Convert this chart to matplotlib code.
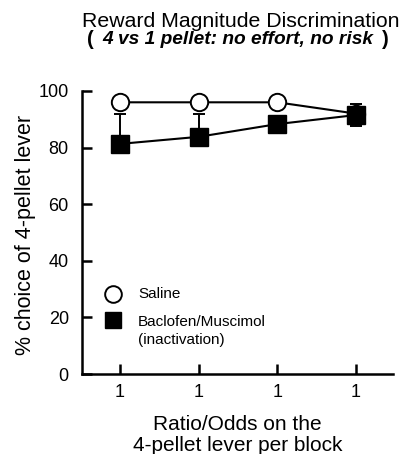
import matplotlib.pyplot as plt

plt.rcParams['font.family'] = ['Liberation Sans', 'DejaVu Sans']

blocks = [1, 2, 3, 4]
tick_labels = ['1', '1', '1', '1']
saline = [96, 96, 96, 92]
baclofen = [81.3, 83.8, 88.3, 91.5]
baclofen_err_low = [0, 0, 0, 4]
baclofen_err_high = [10.7, 8.0, 0, 4]

fig = plt.figure(figsize=(3.99, 4.54), dpi=100)
ax = fig.add_axes([0.2055, 0.1762, 0.7795, 0.6234])

ax.errorbar(blocks, baclofen, yerr=[baclofen_err_low, baclofen_err_high], fmt='none',
            ecolor='black', elinewidth=1.4, capsize=4, capthick=1.4, clip_on=False, zorder=2)
ax.plot(blocks, saline, color='black', lw=1.5, marker='o', ms=12.5, mfc='white',
        mec='black', mew=1.4, clip_on=False, zorder=3)
ax.plot(blocks, baclofen, color='black', lw=1.5, marker='s', ms=13, mfc='black',
        mec='black', clip_on=False, zorder=4)

ax.set_xlim(0.52, 4.47)
ax.set_ylim(0, 100)
ax.set_xticks(blocks)
ax.set_xticklabels(tick_labels)
ax.set_yticks([0, 20, 40, 60, 80, 100])
ax.spines['top'].set_visible(False)
ax.spines['right'].set_visible(False)
ax.spines['left'].set_linewidth(1.8)
ax.spines['bottom'].set_linewidth(1.8)
ax.tick_params(axis='x', direction='in', length=7.5, width=1.8, labelsize=13, pad=7)
ax.tick_params(axis='y', direction='in', length=7.5, width=1.8, labelsize=13, pad=9.5)

ax.set_ylabel('% choice of 4-pellet lever', fontsize=15.5)
ax.yaxis.set_label_coords(-0.147, 0.49)
ax.set_xlabel('Ratio/Odds on the\n4-pellet lever per block', fontsize=15, linespacing=1.1)
ax.xaxis.set_label_coords(0.5, -0.145)

# title (two lines, second line bold italic inside parentheses)
fig.text(0.2055, 0.953, 'Reward Magnitude Discrimination', ha='left', va='center', fontsize=15.3)
fig.text(0.219, 0.914, '(', ha='left', va='center', fontsize=14.5, fontweight='bold')
fig.text(0.596, 0.914, '4 vs 1 pellet: no effort, no risk', ha='center', va='center',
         fontsize=13.8, fontstyle='italic', fontweight='bold')
fig.text(0.974, 0.914, ')', ha='right', va='center', fontsize=14.5, fontweight='bold')

# legend
ax.plot([0.0997], [0.283], transform=ax.transAxes, marker='o', ms=12, mfc='white',
        mec='black', mew=1.4, ls='none', clip_on=False)
ax.plot([0.0997], [0.191], transform=ax.transAxes, marker='s', ms=12, mfc='black',
        mec='black', ls='none', clip_on=False)
ax.text(0.18, 0.283, 'Saline', transform=ax.transAxes, ha='left', va='center', fontsize=11)
ax.text(0.18, 0.184, 'Baclofen/Muscimol', transform=ax.transAxes, ha='left', va='center', fontsize=11)
ax.text(0.18, 0.120, '(inactivation)', transform=ax.transAxes, ha='left', va='center', fontsize=11)

fig.savefig('out.png', dpi=100)
